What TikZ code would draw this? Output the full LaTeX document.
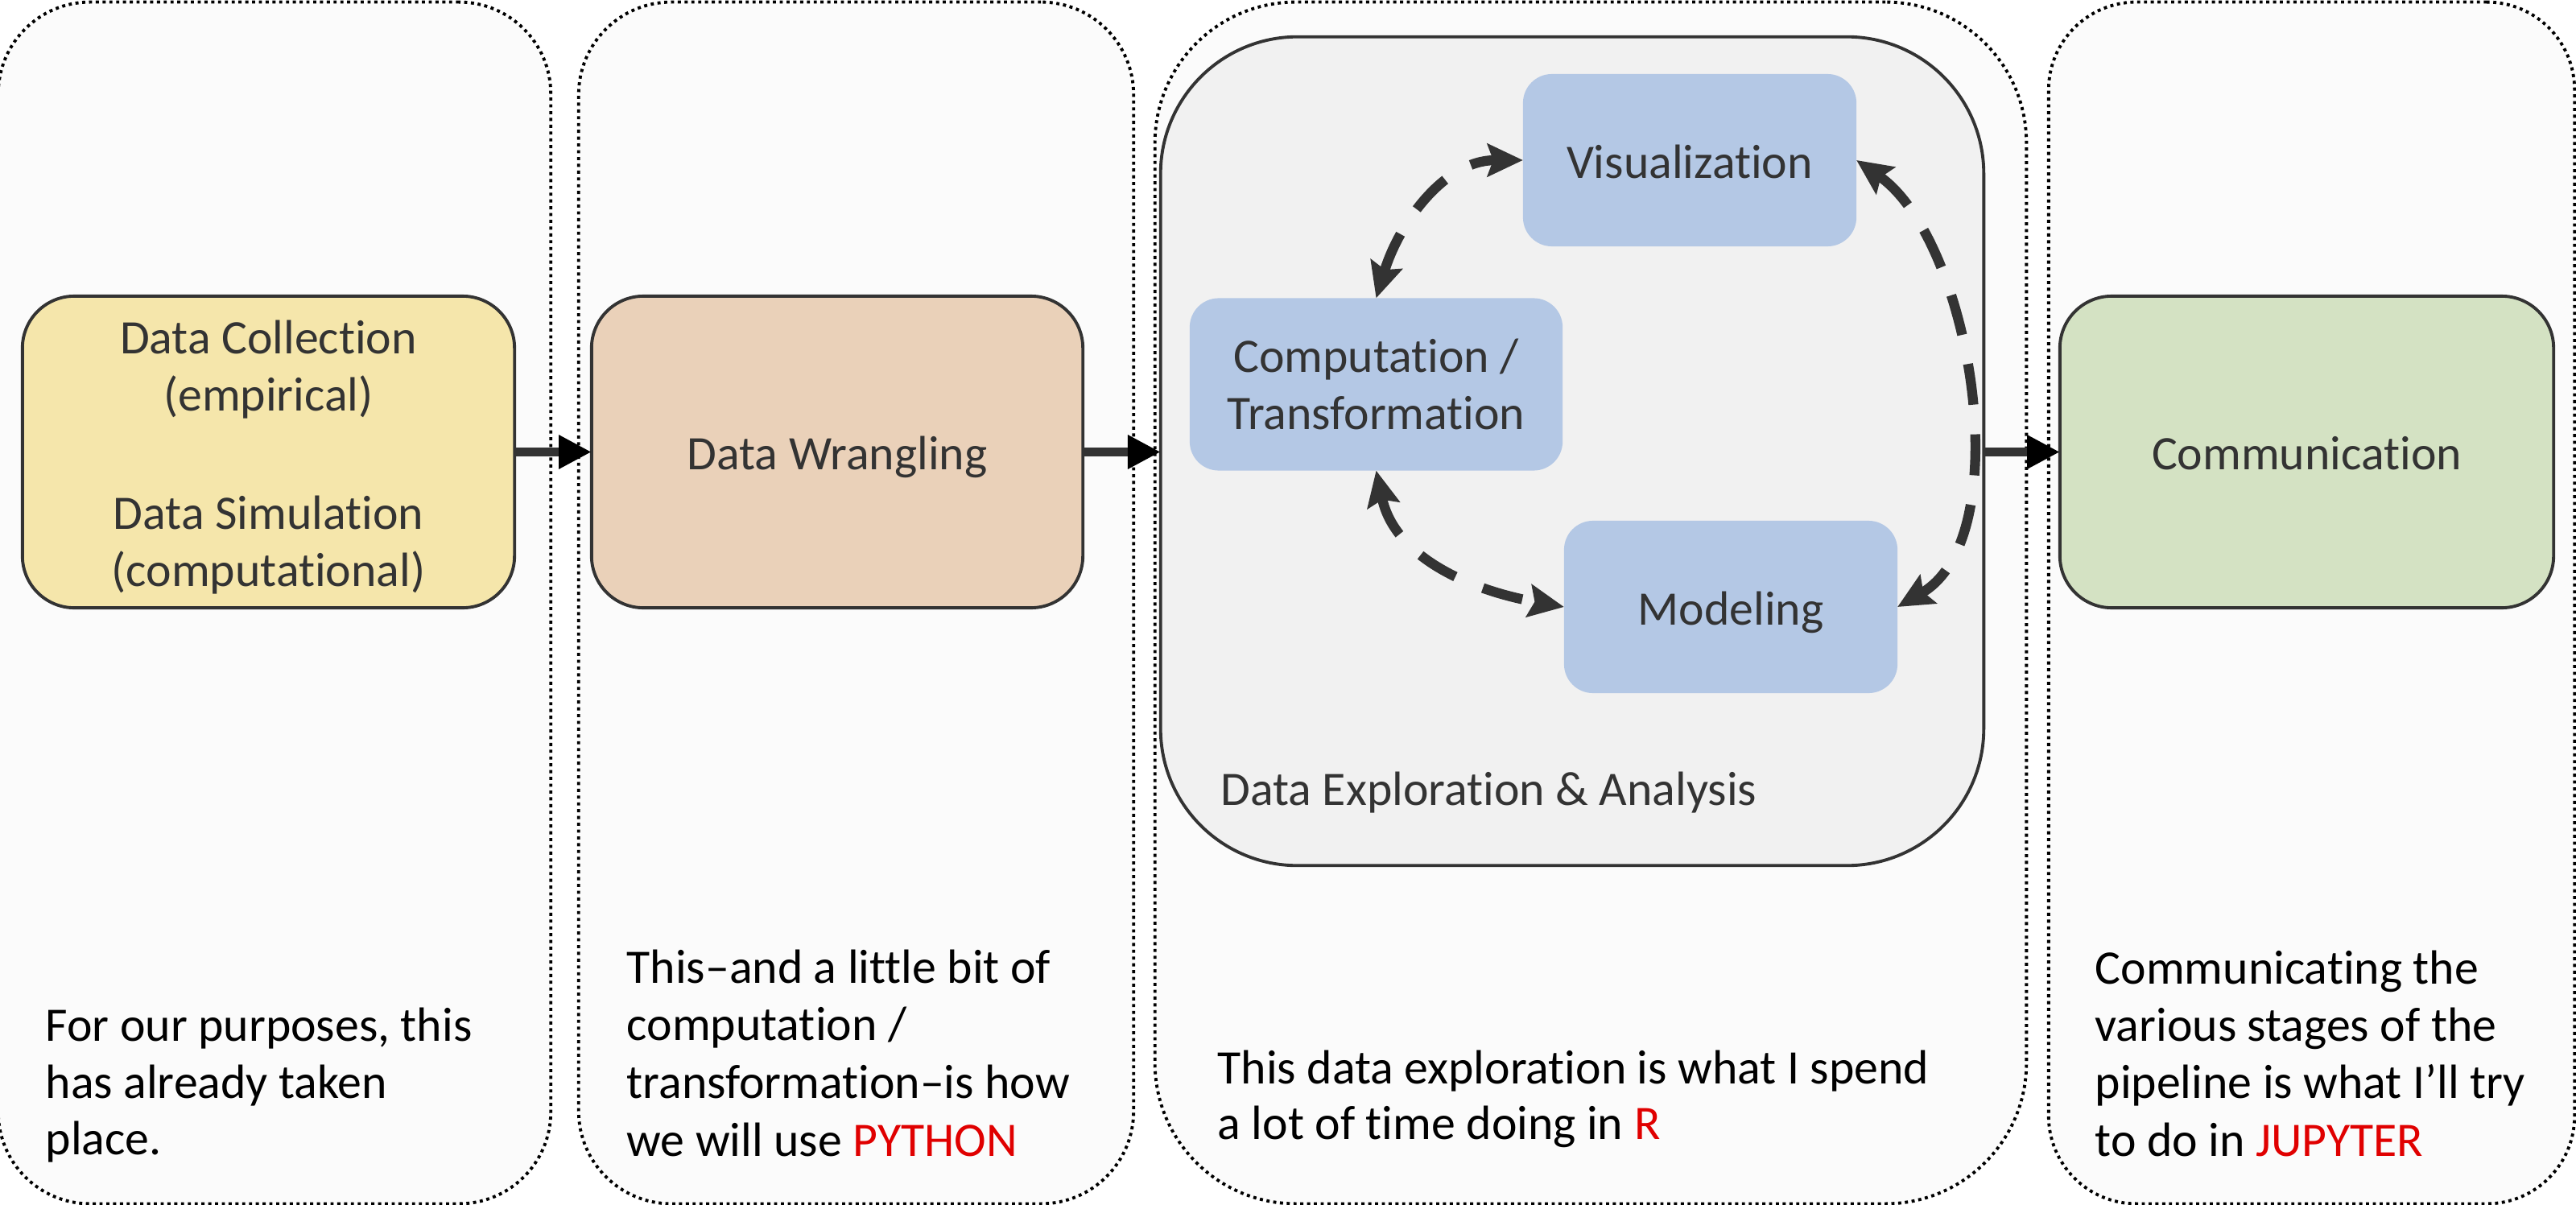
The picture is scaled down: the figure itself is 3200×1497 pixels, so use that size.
\documentclass[tikz,border=0pt]{standalone}
\usepackage{fontspec}
\setmainfont{Carlito}[Ligatures={NoCommon,NoRare,NoContextual}]
\usetikzlibrary{arrows.meta}
\definecolor{panelbg}{HTML}{FBFBFB}
\definecolor{graybg}{HTML}{F1F1F1}
\definecolor{edgec}{HTML}{333333}
\definecolor{yelbox}{HTML}{F5E6AB}
\definecolor{peachbox}{HTML}{EAD1B9}
\definecolor{greenbox}{HTML}{D4E2C3}
\definecolor{bluebox}{HTML}{B4C8E5}
\definecolor{hired}{RGB}{224,0,0}
\newcommand{\mfs}{\fontsize{17pt}{20.2pt}\selectfont}
\begin{document}
\begin{tikzpicture}[x=0.01cm,y=0.01cm,
  panel/.style={draw=black, line width=1.1pt, dash pattern=on 1.1pt off 1.3pt, fill=panelbg, rectangle, inner sep=0pt, outer sep=0pt, minimum height=14.92cm},
  stage/.style={draw=edgec, line width=1.1pt, rectangle, inner sep=0pt, outer sep=0pt, font=\mfs, text=edgec, minimum height=3.87cm, rounded corners=0.645cm},
  onelin/.style={text height=0.44cm, text depth=0pt},
  bluenode/.style={fill=bluebox, rectangle, inner sep=0pt, outer sep=0pt, rounded corners=0.36cm, font=\mfs, text=edgec, minimum height=2.14cm},
  solidarrow/.style={draw=edgec, line width=3.4pt, -{Triangle[length=11.6pt, width=11.3pt, color=black]}},
  cyc/.style={draw=edgec, line width=3.5pt, dash pattern=on 14.5pt off 10.5pt, {Stealth[length=12.5pt, width=11.5pt, inset=2pt]}-{Stealth[length=12.5pt, width=11.5pt, inset=2pt]}},
  note/.style={anchor=base west, inner sep=0pt, font=\mfs, text=black}
]
\useasboundingbox (0,0) rectangle (3200,-1497);
\fill[white] (0,0) rectangle (3200,-1497);

% panels
\node[panel, minimum width=6.86cm, rounded corners=1.14cm] (p1) at (341,-749) {};
\node[panel, minimum width=6.89cm, rounded corners=1.15cm] (p2) at (1063.5,-749) {};
\node[panel, minimum width=10.82cm, rounded corners=1.75cm] (p3) at (1976,-749) {};
\node[panel, minimum width=6.53cm, rounded corners=1.09cm] (p4) at (2871.5,-749) {};

% exploration container
\node[draw=edgec, line width=1.1pt, fill=graybg, rectangle, inner sep=0pt, outer sep=0pt, rounded corners=1.7cm, minimum width=10.22cm, minimum height=10.29cm] (gray) at (1953,-560.5) {};
\node[anchor=base west, inner sep=0pt, font=\mfs, text=edgec] (glabel) at (1516,-1000) {Data Exploration \& Analysis};

% stages
\node[stage, fill=yelbox, minimum width=6.11cm, align=center] (col) at (333.5,-561.5)
  {\rule{0pt}{0.55cm}Data Collection\\(empirical)\\[21.5pt]Data Simulation\\(computational)};
\node[stage, onelin, fill=peachbox, minimum width=6.10cm] (wra) at (1040,-561.5) {Data Wrangling};
\node[stage, onelin, fill=greenbox, minimum width=6.13cm] (com) at (2865.5,-561.5) {Communication};

% inner cycle
\node[bluenode, onelin, minimum width=4.14cm] (viz) at (2099,-199) {Visualization};
\node[bluenode, minimum width=4.63cm, align=center] (comp) at (1709.5,-477.5) {Computation /\\Transformation};
\node[bluenode, onelin, minimum width=4.14cm] (mod) at (2150,-754) {Modeling};

% pipeline arrows
\draw[solidarrow] (col.east) -- (wra.west);
\draw[solidarrow] (wra.east) -- (wra.east -| gray.west);
\draw[solidarrow] (gray.east |- com.west) -- (com.west);

% cycle arrows
\draw[cyc] (comp.north) to[out=73, in=180] (viz.west);
\draw[cyc] (comp.south) to[out=-78, in=170] (mod.west);
\draw[cyc] (viz.east) to[out=-35, in=30, looseness=0.8] (mod.east);

% notes
\node[note] (n1a) at (56,-1293) {For our purposes, this};
\node[note] (n1b) at (56,-1364) {has already taken};
\node[note] (n1c) at (56,-1434) {place.};

\node[note] (n2a) at (778,-1221) {This–and a little bit of};
\node[note] (n2b) at (778,-1292) {computation /};
\node[note] (n2c) at (778,-1364) {transformation–is how};
\node[note] (n2d) at (778,-1436) {we will use {\color{hired}PYTHON}};

\node[note] (n3a) at (1512,-1346) {This data exploration is what I spend};
\node[note] (n3b) at (1512,-1415) {a lot of time doing in {\color{hired}R}};

\node[note] (n4a) at (2602,-1222) {Communicating the};
\node[note] (n4b) at (2602,-1293) {various stages of the};
\node[note] (n4c) at (2602,-1364) {pipeline is what I’ll try};
\node[note] (n4d) at (2602,-1436) {to do in {\color{hired}JUPYTER}};
\end{tikzpicture}
\end{document}
